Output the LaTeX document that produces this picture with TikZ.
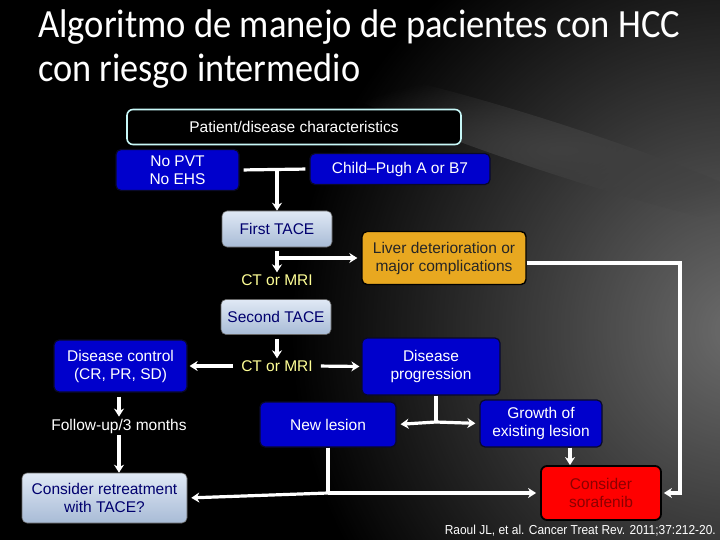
\documentclass[tikz,border=0pt]{standalone}
\usepackage{fontspec}
\setmainfont{Liberation Sans}
\newfontfamily\titlefont{Carlito}
\usepackage{tikz}
\usetikzlibrary{arrows.meta, positioning, calc, fadings}

\definecolor{boxblue}{RGB}{0,0,204}
\definecolor{boxedge}{RGB}{10,10,40}
\definecolor{paletop}{RGB}{224,233,245}
\definecolor{palebot}{RGB}{168,187,214}
\definecolor{navytext}{RGB}{0,0,110}
\definecolor{liverorange}{RGB}{232,168,32}
\definecolor{sorared}{RGB}{255,0,0}
\definecolor{soratext}{RGB}{140,0,0}
\definecolor{ctyellow}{RGB}{255,255,150}
\definecolor{frameedge}{RGB}{200,248,248}

\tikzfading[name=glowfade, inner color=transparent!0, outer color=transparent!100]

\begin{document}
\begin{tikzpicture}[
        x=1pt, y=-1pt,
        font=\fontsize{15.5}{18}\selectfont,
        bluebox/.style={rectangle, rounded corners=5pt, draw=boxedge, line width=1.2pt, fill=boxblue, text=white, align=center},
        palebox/.style={rectangle, rounded corners=5pt, draw=black!60, line width=0.6pt, top color=paletop, bottom color=palebot, text=navytext, align=center},
        scan/.style={text=ctyellow, inner sep=2pt},
        plain/.style={text=white, inner sep=2pt},
        line/.style={draw=white, line width=3.2pt},
        arrow/.style={->, draw=white, line width=3.2pt},
        >={Stealth[length=8pt, width=10pt, inset=2.5pt]}
    ]

    % background
    \useasboundingbox (0,0) rectangle (720,540);
    \fill[black] (0,0) rectangle (720,540);
    \fill[gray!85!black, path fading=glowfade] (740,330) circle (450);
    \fill[gray!50!black, path fading=glowfade, rotate around={-18:(560,150)}] (560,150) ellipse (260 and 25);

    % title
    \node[anchor=base west, inner sep=0pt, text=white] (title1) at (38,38)
        {\resizebox{642pt}{\height}{\titlefont\fontsize{40}{44}\selectfont Algoritmo de manejo de pacientes con HCC}};
    \node[anchor=base west, inner sep=0pt, text=white] (title2) at (38,82)
        {\resizebox{322pt}{\height}{\titlefont\fontsize{40}{44}\selectfont con riesgo intermedio}};

    % boxes
    \node (patient) [rectangle, rounded corners=6pt, draw=frameedge, line width=1.6pt, fill=black, text=white, minimum width=334pt, minimum height=35pt] at (294,127) {Patient/disease characteristics};
    \node (nopvt) [bluebox, minimum width=123pt, minimum height=41pt] at (177.5,170) {No PVT\\No EHS};
    \node (childpugh) [bluebox, minimum width=180pt, minimum height=31pt] at (400,169) {Child--Pugh A or B7};
    \node (firsttace) [palebox, minimum width=110pt, minimum height=36pt] at (277,229) {First TACE};
    \node (liver) [rectangle, rounded corners=5pt, draw=black, line width=1.4pt, fill=liverorange, text=black!85, align=center, minimum width=164pt, minimum height=53pt] at (444,258) {Liver deterioration or\\major complications};
    \node (ctmri1) [scan] at (277,280) {CT or MRI};
    \node (secondtace) [palebox, minimum width=110pt, minimum height=35pt] at (276,317) {Second TACE};
    \node (ctmri2) [scan] at (277,366) {CT or MRI};
    \node (dcontrol) [bluebox, minimum width=133pt, minimum height=52pt] at (120.5,366) {Disease control\\(CR, PR, SD)};
    \node (dprog) [bluebox, minimum width=138pt, minimum height=57pt] at (431,366.5) {Disease\\progression};
    \node (followup) [plain] at (119,426) {Follow-up/3 months};
    \node (newlesion) [bluebox, minimum width=136pt, minimum height=45pt] at (328,424.5) {New lesion};
    \node (growth) [bluebox, minimum width=122pt, minimum height=47pt] at (541,423.5) {Growth of\\existing lesion};
    \node (retreat) [palebox, minimum width=165pt, minimum height=50pt] at (104.5,498) {Consider retreatment\\with TACE?};
    \node (sorafenib) [rectangle, rounded corners=6pt, draw=black, line width=1.8pt, fill=sorared, text=soratext, align=center, minimum width=120pt, minimum height=54pt] at (601,493) {Consider\\sorafenib};
    \node (cite) [anchor=base east, inner sep=0pt, text=white] at (716,534)
        {\resizebox{271pt}{\height}{\fontsize{13}{15}\selectfont Raoul JL, et al. Cancer Treat Rev. 2011;37:212-20.}};

    % junctions
    \coordinate (j1) at (firsttace.north |- nopvt.east);
    \coordinate (j2) at (firsttace.south |- liver.west);
    \coordinate (j3) at (436,422);
    \coordinate (j4) at (newlesion.south |- sorafenib.east);
    \coordinate (j5) at (570,0);
    \coordinate (j6) at (680,263);

    % connectors
    \draw[line, shorten <=4pt, shorten >=4pt] (nopvt.east) -- (childpugh.west);
    \draw[arrow] (j1) -- (firsttace.north);
    \draw[arrow, shorten <=4pt] (firsttace.south) -- (ctmri1.north);
    \draw[arrow, shorten >=4pt] (j2) -- (liver.west);
    \draw[arrow, shorten <=4pt] (ctmri2.north |- secondtace.south) -- (ctmri2.north);
    \draw[arrow, shorten <=6pt, shorten >=2pt] (ctmri2.west) -- (dcontrol.east);
    \draw[arrow, shorten <=6pt, shorten >=2pt] (ctmri2.east) -- (dprog.west);
    \draw[arrow, shorten <=4pt] (followup.north |- dcontrol.south) -- (followup.north);
    \draw[arrow] (followup.south) -- (followup.south |- retreat.north);
    \draw[line] (dprog.south -| j3) -- (j3);
    \draw[arrow, shorten >=4pt] (j3) -- (newlesion.east);
    \draw[arrow, shorten >=4pt] (j3) -- (growth.west);
    \draw[line] (newlesion.south) -- (j4);
    \draw[arrow, shorten >=4pt] (j4) -- (retreat.east);
    \draw[arrow, shorten >=4pt] (j4) -- (sorafenib.west);
    \draw[arrow] (growth.south -| j5) -- (sorafenib.north -| j5);
    \draw[arrow, shorten >=2pt] (liver.east |- j6) -- (j6) |- (sorafenib.east);

\end{tikzpicture}
\end{document}
